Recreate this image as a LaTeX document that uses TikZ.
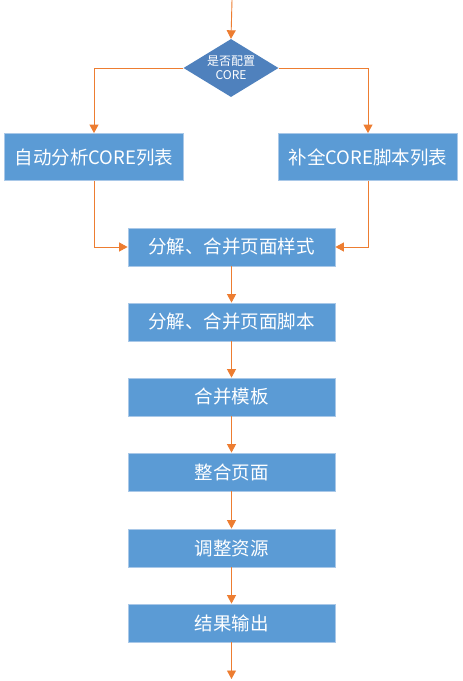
\documentclass[tikz,border=0pt]{standalone}
\usepackage{fontspec}
\setmainfont{Noto Sans CJK SC}
\usetikzlibrary{shapes.geometric,arrows.meta}
\definecolor{boxblue}{HTML}{5B9BD5}
\definecolor{boxedge}{HTML}{A9C8E8}
\definecolor{decblue}{HTML}{4F81BD}
\definecolor{flow}{HTML}{ED7D31}
\tikzset{
  stepbox/.style={draw=boxedge, line width=0.8pt, fill=boxblue, text=white,
    minimum height=38pt, inner sep=0pt, font=\fontsize{18.5}{20}\selectfont},
  colbox/.style={stepbox, minimum width=207pt},
  sidebox/.style={stepbox, minimum width=179pt, minimum height=47pt},
  decision/.style={diamond, aspect=1.62, fill=decblue, text=white, inner sep=0pt,
    minimum width=95pt, minimum height=58pt, align=center,
    font=\fontsize{12}{13.5}\selectfont},
  flowline/.style={draw=flow, line width=0.9pt, -{Triangle[width=9pt,length=8.5pt]}},
}
\begin{document}
\begin{tikzpicture}[x=1pt, y=-1pt]
  \useasboundingbox (0,0) rectangle (463,681);
  \fill[white] (0,0) rectangle (463,681);

  \coordinate (start) at (232,0);
  \node[decision] (cfg) at (231,68) {是否配置\\CORE};
  \node[sidebox] (auto) at (94,157) {自动分析CORE列表};
  \node[sidebox] (fill) at (368,157) {补全CORE脚本列表};
  \node[colbox] (style) at (231.5,247) {分解、合并页面样式};
  \node[colbox] (script) at (231.5,322) {分解、合并页面脚本};
  \node[colbox] (tmpl) at (231.5,397) {合并模板};
  \node[colbox] (page) at (231.5,472) {整合页面};
  \node[colbox] (res) at (231.5,548) {调整资源};
  \node[colbox] (out) at (231.5,623) {结果输出};
  \coordinate (end) at (231.5,679);

  \draw[flowline] (start) -- (cfg.north);
  \draw[flowline] (cfg.west) -| (auto.north);
  \draw[flowline] (cfg.east) -| (fill.north);
  \draw[flowline] (auto.south) |- (style.west);
  \draw[flowline] (fill.south) |- (style.east);
  \draw[flowline] (style) -- (script);
  \draw[flowline] (script) -- (tmpl);
  \draw[flowline] (tmpl) -- (page);
  \draw[flowline] (page) -- (res);
  \draw[flowline] (res) -- (out);
  \draw[flowline] (out) -- (end);
\end{tikzpicture}
\end{document}
